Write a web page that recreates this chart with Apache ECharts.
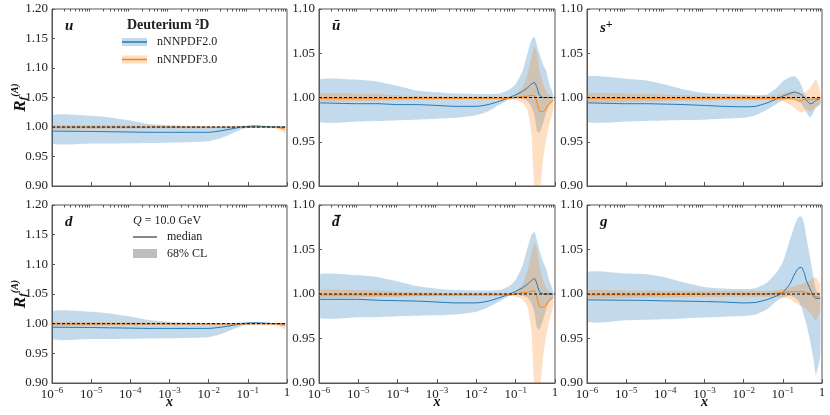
<!DOCTYPE html>
<html>
<head>
<meta charset="utf-8">
<script src="https://cdn.jsdelivr.net/npm/echarts@6/dist/echarts.min.js"></script>
<style>
html, body { margin: 0; padding: 0; background: #fff; }
#main { width: 830px; height: 415px; }
</style>
</head>
<body>
<div id="main"></div>
<script>
// x grid shared by every curve
var X = [1e-6, 1e-5, 3e-5, 1e-4, 3e-4, 1e-3, 3e-3, 1e-2, 2e-2, 4e-2, 7e-2, 0.1, 0.15, 0.2, 0.25, 0.3, 0.35, 0.4, 0.5, 0.6, 0.7, 0.9];

// u
var uHi2  = [1.020, 1.019, 1.016, 1.011, 1.005, 1.003, 1.002, 1.001, 1.001, 1.001, 1.002, 1.0023, 1.0025, 1.002, 1.0015, 1.001, 1.001, 1.0008, 1.0006, 1.0006, 1.0006, 1.0006];
var uLo2  = [0.972, 0.972, 0.972, 0.9725, 0.973, 0.9735, 0.974, 0.976, 0.981, 0.989, 0.996, 0.9989, 0.9994, 0.9994, 0.9993, 0.999, 0.999, 0.999, 0.999, 0.999, 0.9988, 0.9985];
var uMed2 = [0.993, 0.9925, 0.992, 0.9915, 0.991, 0.991, 0.991, 0.991, 0.9935, 0.997, 1.0, 1.001, 1.0017, 1.0015, 1.001, 1.0008, 1.0005, 1.0003, 1.0, 1.0, 0.9998, 0.9995];
var uHi3  = [1.003, 1.003, 1.0028, 1.0025, 1.002, 1.0017, 1.0013, 1.001, 1.001, 1.001, 1.001, 1.001, 1.001, 1.001, 1.001, 1.001, 1.001, 1.001, 1.001, 1.001, 1.0008, 1.0005];
var uLo3  = [0.996, 0.9965, 0.997, 0.9972, 0.9975, 0.9977, 0.998, 0.998, 0.998, 0.998, 0.9985, 0.9985, 0.9985, 0.9985, 0.9985, 0.998, 0.998, 0.9978, 0.997, 0.996, 0.994, 0.989];
var uMed3 = [0.9995, 0.9995, 0.9995, 0.9995, 0.9995, 0.9995, 0.9995, 0.9995, 0.9995, 0.9995, 0.9995, 0.9995, 0.9995, 0.9995, 0.9995, 0.9995, 0.9995, 0.9995, 0.9995, 0.999, 0.998, 0.996];

// ubar
var ubHi2  = [1.020, 1.020, 1.018, 1.013, 1.008, 1.006, 1.0045, 1.004, 1.004, 1.0045, 1.009, 1.015, 1.030, 1.050, 1.065, 1.069, 1.058, 1.050, 1.037, 1.030, 1.017, 1.003];
var ubLo2  = [0.973, 0.973, 0.9735, 0.9744, 0.975, 0.976, 0.977, 0.980, 0.9845, 0.992, 0.998, 0.999, 0.998, 0.996, 0.990, 0.979, 0.962, 0.960, 0.971, 0.983, 0.990, 0.996];
var ubMed2 = [0.994, 0.993, 0.993, 0.992, 0.992, 0.991, 0.990, 0.990, 0.992, 0.996, 1.000, 1.003, 1.007, 1.011, 1.015, 1.017, 1.011, 1.003, 1.000, 1.000, 1.000, 1.000];
var ubHi3  = [1.0045, 1.0043, 1.004, 1.0026, 1.002, 1.0015, 1.001, 1.001, 1.001, 1.001, 1.0015, 1.0034, 1.011, 1.026, 1.045, 1.058, 1.050, 1.032, 1.015, 1.007, 1.003, 1.000];
var ubLo3  = [0.996, 0.996, 0.9965, 0.997, 0.9975, 0.998, 0.998, 0.998, 0.998, 0.998, 0.998, 0.997, 0.994, 0.986, 0.960, 0.896, 0.877, 0.885, 0.930, 0.953, 0.968, 0.986];
var ubMed3 = [0.999, 0.999, 0.999, 0.999, 0.999, 0.999, 0.999, 0.999, 0.999, 0.999, 0.999, 1.000, 1.001, 1.0015, 1.0025, 1.002, 0.994, 0.985, 0.984, 0.988, 0.993, 0.997];

// s+
var sHi2  = [1.023, 1.021, 1.0196, 1.0147, 1.009, 1.005, 1.004, 1.0034, 1.0026, 1.0034, 1.011, 1.0185, 1.023, 1.024, 1.020, 1.0136, 1.005, 1.001, 0.999, 0.999, 0.999, 1.000];
var sLo2  = [0.973, 0.973, 0.9735, 0.974, 0.9745, 0.975, 0.976, 0.977, 0.980, 0.9865, 0.993, 0.9966, 0.998, 0.998, 0.996, 0.993, 0.988, 0.983, 0.977, 0.983, 0.988, 0.992];
var sMed2 = [0.994, 0.993, 0.993, 0.9925, 0.992, 0.991, 0.990, 0.9895, 0.990, 0.994, 0.9985, 1.0015, 1.0045, 1.006, 1.005, 1.003, 1.000, 0.997, 0.993, 0.994, 0.997, 0.9985];
var sHi3  = [1.0045, 1.0043, 1.004, 1.0034, 1.0025, 1.002, 1.002, 1.002, 1.002, 1.002, 1.003, 1.0045, 1.007, 1.008, 1.005, 1.004, 1.005, 1.007, 1.011, 1.0166, 1.021, 1.007];
var sLo3  = [0.9947, 0.995, 0.9955, 0.996, 0.9963, 0.9966, 0.997, 0.997, 0.997, 0.997, 0.9966, 0.996, 0.992, 0.988, 0.9845, 0.983, 0.9845, 0.9865, 0.9845, 0.9865, 0.990, 0.993];
var sMed3 = [0.999, 0.999, 0.999, 0.999, 0.999, 0.999, 0.999, 0.999, 0.999, 0.999, 0.999, 0.999, 0.9988, 0.998, 0.996, 0.9966, 0.998, 0.9985, 0.998, 0.9985, 0.999, 0.9993];

// d
var dHi2  = [1.021, 1.020, 1.017, 1.012, 1.006, 1.003, 1.002, 1.001, 1.001, 1.001, 1.002, 1.0025, 1.0025, 1.002, 1.0015, 1.001, 1.001, 1.0008, 1.0006, 1.0006, 1.0006, 1.0006];
var dLo2  = [0.974, 0.974, 0.974, 0.9745, 0.975, 0.9755, 0.976, 0.977, 0.982, 0.990, 0.996, 0.9989, 0.9994, 0.9994, 0.9993, 0.999, 0.999, 0.999, 0.999, 0.999, 0.9988, 0.9985];
var dMed2 = [0.994, 0.9935, 0.993, 0.9925, 0.992, 0.992, 0.992, 0.992, 0.994, 0.997, 1.0, 1.001, 1.0015, 1.0015, 1.001, 1.0008, 1.0005, 1.0003, 1.0, 1.0, 0.9998, 0.9995];
var dHi3  = [1.003, 1.003, 1.0028, 1.0025, 1.002, 1.0017, 1.0013, 1.001, 1.001, 1.001, 1.001, 1.001, 1.001, 1.001, 1.001, 1.001, 1.001, 1.001, 1.001, 1.001, 1.001, 1.0008];
var dLo3  = [0.996, 0.9965, 0.997, 0.9972, 0.9975, 0.9977, 0.998, 0.998, 0.998, 0.998, 0.9985, 0.9985, 0.9985, 0.9985, 0.9985, 0.998, 0.998, 0.9978, 0.997, 0.996, 0.994, 0.990];
var dMed3 = [0.9995, 0.9995, 0.9995, 0.9995, 0.9995, 0.9995, 0.9995, 0.9995, 0.9995, 0.9995, 0.9995, 0.9995, 0.9995, 0.9995, 0.9995, 0.9995, 0.9995, 0.9995, 0.9995, 0.999, 0.998, 0.997];

// dbar
var dbHi2  = [1.0217, 1.021, 1.019, 1.014, 1.009, 1.006, 1.0045, 1.004, 1.004, 1.0045, 1.009, 1.016, 1.032, 1.052, 1.066, 1.070, 1.060, 1.050, 1.036, 1.028, 1.016, 1.003];
var dbLo2  = [0.9735, 0.974, 0.974, 0.975, 0.9755, 0.976, 0.977, 0.980, 0.985, 0.992, 0.998, 0.999, 0.998, 0.996, 0.990, 0.979, 0.962, 0.960, 0.971, 0.983, 0.990, 0.996];
var dbMed2 = [0.994, 0.994, 0.993, 0.9925, 0.992, 0.991, 0.990, 0.990, 0.992, 0.996, 1.000, 1.003, 1.007, 1.011, 1.015, 1.0175, 1.011, 1.003, 1.000, 1.000, 1.000, 1.000];
var dbHi3  = [1.0045, 1.0043, 1.004, 1.0026, 1.002, 1.0015, 1.001, 1.001, 1.001, 1.001, 1.0015, 1.0034, 1.011, 1.026, 1.045, 1.058, 1.050, 1.032, 1.015, 1.007, 1.003, 1.000];
var dbLo3  = [0.996, 0.996, 0.9965, 0.997, 0.9975, 0.998, 0.998, 0.998, 0.998, 0.998, 0.998, 0.997, 0.994, 0.986, 0.960, 0.896, 0.877, 0.885, 0.930, 0.953, 0.968, 0.986];
var dbMed3 = [0.999, 0.999, 0.999, 0.999, 0.999, 0.999, 0.999, 0.999, 0.999, 0.999, 0.999, 1.000, 1.0015, 1.002, 1.003, 1.0035, 0.996, 0.986, 0.985, 0.988, 0.993, 0.996];

// g
var gHi2  = [1.0243, 1.023, 1.0224, 1.0186, 1.013, 1.008, 1.0062, 1.0055, 1.0066, 1.013, 1.0243, 1.0356, 1.060, 1.077, 1.0864, 1.087, 1.079, 1.064, 1.040, 1.020, 1.005, 0.998];
var gLo2  = [0.969, 0.9704, 0.971, 0.9716, 0.9725, 0.9735, 0.9745, 0.9753, 0.977, 0.983, 0.992, 0.996, 0.998, 0.996, 0.992, 0.985, 0.975, 0.966, 0.947, 0.928, 0.909, 0.930];
var gMed2 = [0.9934, 0.993, 0.9928, 0.9923, 0.992, 0.9915, 0.991, 0.990, 0.9905, 0.9938, 0.998, 1.0017, 1.011, 1.0224, 1.029, 1.030, 1.024, 1.015, 1.0055, 0.998, 0.995, 0.995];
var gHi3  = [1.0043, 1.004, 1.004, 1.0036, 1.0036, 1.0036, 1.0036, 1.0036, 1.0036, 1.0036, 1.004, 1.0055, 1.0073, 1.009, 1.010, 1.011, 1.012, 1.013, 1.0156, 1.018, 1.0186, 1.011];
var gLo3  = [0.9953, 0.9955, 0.9957, 0.996, 0.9963, 0.9965, 0.9967, 0.9968, 0.9968, 0.9968, 0.9965, 0.996, 0.994, 0.9904, 0.988, 0.9866, 0.985, 0.983, 0.979, 0.974, 0.970, 0.981];
var gMed3 = [0.999, 0.999, 0.999, 0.9993, 0.9995, 0.9997, 1.0, 1.0, 1.0, 1.0, 1.001, 1.0017, 1.0025, 1.0028, 1.0028, 1.0028, 1.0022, 1.0017, 1.0, 0.9987, 0.997, 0.996];

// panel labels (the bar over d is drawn as a small line below)
var panelLabels = ['{a|u}', '{a|\u016b}', '{a|s}{p|+}', '{a|d}', '{a|d}', '{a|g}'];
var yMax = [1.2, 1.1, 1.1, 1.2, 1.1, 1.1];
var hi2 = [uHi2, ubHi2, sHi2, dHi2, dbHi2, gHi2];
var lo2 = [uLo2, ubLo2, sLo2, dLo2, dbLo2, gLo2];
var med2 = [uMed2, ubMed2, sMed2, dMed2, dbMed2, gMed2];
var hi3 = [uHi3, ubHi3, sHi3, dHi3, dbHi3, gHi3];
var lo3 = [uLo3, ubLo3, sLo3, dLo3, dbLo3, gLo3];
var med3 = [uMed3, ubMed3, sMed3, dMed3, dbMed3, gMed3];

var FONT = 'Liberation Serif';
var BLUE = '#1f77b4', ORANGE = '#ff7f0e';
var BLUE_BAND = 'rgba(31,119,180,0.27)', ORANGE_BAND = 'rgba(255,127,14,0.25)';

// minor log ticks 2..9 x 10^k
var minorTicks = [];
for (var e = -6; e < 0; e++) {
    for (var m = 2; m < 10; m++) {
        minorTicks.push(m * Math.pow(10, e));
    }
}

var gridLefts = [52, 319, 587];
var gridWidths = [235, 236, 235];
var gridTops = [9, 205];
var gridHeights = [177, 178];

function fmtX(v) {
    var p = Math.round(Math.log(v) / Math.LN10);
    if (p === 0) return '{b|1}';
    return '{b|10}{s|\u2212' + (-p) + '}';
}

function bandSeries(gi, lo, hi, color) {
    return {
        type: 'custom',
        xAxisIndex: gi * 2,
        yAxisIndex: gi,
        clip: true,
        silent: true,
        data: [[X[0], lo[0]]],
        encode: {x: 0, y: 1},
        renderItem: function (params, api) {
            var pts = [];
            for (var i = 0; i < X.length; i++) pts.push(api.coord([X[i], hi[i]]));
            for (var j = X.length - 1; j >= 0; j--) pts.push(api.coord([X[j], lo[j]]));
            return {type: 'polygon', shape: {points: pts, smooth: 0.15}, style: {fill: color}};
        }
    };
}

function lineSeries(gi, med, color) {
    var d = [];
    for (var i = 0; i < X.length; i++) d.push([X[i], med[i]]);
    return {
        type: 'line',
        xAxisIndex: gi * 2,
        yAxisIndex: gi,
        data: d,
        showSymbol: false,
        smooth: 0.2,
        silent: true,
        lineStyle: {color: color, width: 1}
    };
}

var grids = [], xAxes = [], yAxes = [], series = [], titles = [];
for (var gi = 0; gi < 6; gi++) {
    var row = Math.floor(gi / 3), col = gi % 3;
    grids.push({
        left: gridLefts[col], top: gridTops[row],
        width: gridWidths[col], height: gridHeights[row],
        show: true, borderColor: '#555', borderWidth: 1, backgroundColor: 'transparent'
    });
    xAxes.push({
        type: 'log', logBase: 10, gridIndex: gi, min: 1e-6, max: 1, interval: 1,
        name: row === 1 ? '{x|x}' : '',
        nameLocation: 'middle', nameGap: 12, nameMoveOverlap: false,
        nameTextStyle: {rich: {x: {fontFamily: FONT, fontSize: 14, fontWeight: 'bold', fontStyle: 'italic', color: '#111'}}},
        axisLine: {show: true, lineStyle: {color: '#555', width: 1}},
        axisTick: {show: true, inside: true, length: 4, lineStyle: {color: '#555'}},
        splitLine: {show: false},
        axisLabel: {
            show: row === 1, margin: 3, formatter: fmtX,
            rich: {
                b: {fontFamily: FONT, fontSize: 13, color: '#222', verticalAlign: 'bottom'},
                s: {fontFamily: FONT, fontSize: 9, color: '#222', verticalAlign: 'bottom', padding: [0, 0, 6, 0]}
            }
        }
    });
    xAxes.push({
        type: 'log', logBase: 10, gridIndex: gi, min: 1e-6, max: 1,
        axisLine: {show: false},
        axisTick: {show: true, inside: true, length: 2.5, customValues: minorTicks, lineStyle: {color: '#555'}},
        axisLabel: {show: false},
        splitLine: {show: false}
    });
    yAxes.push({
        type: 'value', gridIndex: gi, min: 0.9, max: yMax[gi], interval: 0.05,
        name: col === 0 ? '{r|R}{f|f}{a|(A)}' : '',
        nameLocation: 'middle', nameGap: 23, nameRotate: 90, nameMoveOverlap: false,
        nameTextStyle: {
            rich: {
                r: {fontFamily: FONT, fontSize: 17, fontWeight: 'bold', fontStyle: 'italic', color: '#111', verticalAlign: 'bottom'},
                f: {fontFamily: FONT, fontSize: 11, fontWeight: 'bold', fontStyle: 'italic', color: '#111', verticalAlign: 'bottom'},
                a: {fontFamily: FONT, fontSize: 10, fontWeight: 'bold', fontStyle: 'italic', color: '#111', verticalAlign: 'bottom', padding: [0, 0, 9, 0]}
            }
        },
        axisLine: {show: true, lineStyle: {color: '#555', width: 1}},
        axisTick: {show: true, inside: true, length: 3, lineStyle: {color: '#555'}},
        splitLine: {show: false},
        axisLabel: {
            margin: 4, fontFamily: FONT, fontSize: 13, color: '#222',
            formatter: function (v) { return v.toFixed(2); }
        }
    });
    titles.push({
        text: panelLabels[gi],
        left: gridLefts[col] + 13, top: gridTops[row] + 10, padding: 0,
        textStyle: {
            rich: {
                a: {fontFamily: FONT, fontSize: 15, fontWeight: 'bold', fontStyle: 'italic', color: '#111'},
                p: {fontFamily: FONT, fontSize: 12, color: '#111', verticalAlign: 'bottom', padding: [0, 0, 6, 0]}
            }
        }
    });
    series.push(bandSeries(gi, lo2[gi], hi2[gi], BLUE_BAND));
    series.push(bandSeries(gi, lo3[gi], hi3[gi], ORANGE_BAND));
    series.push(lineSeries(gi, med2[gi], BLUE));
    series.push(lineSeries(gi, med3[gi], ORANGE));
    series.push({
        type: 'line', xAxisIndex: gi * 2, yAxisIndex: gi, silent: true,
        data: [[1e-6, 1], [1, 1]], showSymbol: false,
        lineStyle: {color: '#000', width: 1, type: [3, 2]}
    });
}

function label(text, x, y, extra) {
    var st = {text: text, x: x, y: y, fontFamily: FONT, fontSize: 12, fill: '#222', verticalAlign: 'middle', textVerticalAlign: 'middle'};
    for (var k in extra) st[k] = extra[k];
    return {type: 'text', silent: true, style: st};
}

var graphics = [
    label('Deuterium \u00b2D', 127, 25, {fontWeight: 'bold', fontSize: 14}),
    {type: 'rect', silent: true, shape: {x: 122, y: 38, width: 25, height: 8}, style: {fill: BLUE_BAND}},
    {type: 'line', silent: true, shape: {x1: 122, y1: 42, x2: 147, y2: 42}, style: {stroke: BLUE, lineWidth: 1.5}},
    label('nNNPDF2.0', 157, 42),
    {type: 'rect', silent: true, shape: {x: 122, y: 55.5, width: 25, height: 8}, style: {fill: ORANGE_BAND}},
    {type: 'line', silent: true, shape: {x1: 122, y1: 59.5, x2: 147, y2: 59.5}, style: {stroke: ORANGE, lineWidth: 1.5}},
    label('nNNPDF3.0', 157, 59.5),
    label('{i|Q} = 10.0 GeV', 133, 221, {rich: {i: {fontFamily: FONT, fontSize: 12, fontStyle: 'italic', fill: '#222'}}}),
    {type: 'line', silent: true, shape: {x1: 133, y1: 237, x2: 157, y2: 237}, style: {stroke: '#111', lineWidth: 1}},
    label('median', 167, 237),
    {type: 'rect', silent: true, shape: {x: 133, y: 249, width: 24, height: 9}, style: {fill: '#bdbdbd'}},
    label('68% CL', 167, 253.5),
    // bar over the d of the d-bar panel
    {type: 'line', silent: true, shape: {x1: 334.5, y1: 215.5, x2: 341, y2: 215.5}, style: {stroke: '#111', lineWidth: 1.3}}
];

var chart = echarts.init(document.getElementById('main'));
chart.setOption({
    animation: false,
    backgroundColor: '#fff',
    title: titles,
    grid: grids,
    xAxis: xAxes,
    yAxis: yAxes,
    series: series,
    graphic: graphics
});
</script>
</body>
</html>
